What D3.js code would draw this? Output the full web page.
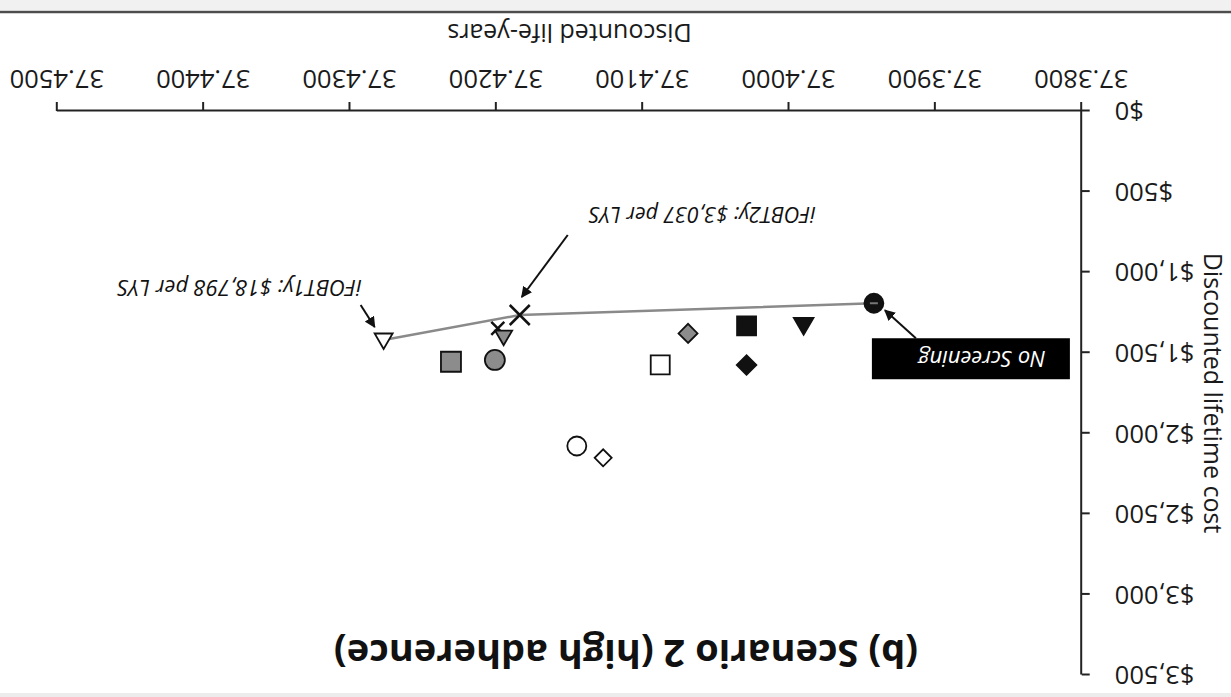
<!DOCTYPE html>
<html>
<head>
<meta charset="utf-8">
<script src="https://cdn.jsdelivr.net/npm/d3@7"></script>
<style>
  body { margin: 0; background: #fff; }
  svg { display: block; font-family: "Open Sans", sans-serif; }
</style>
</head>
<body>
<svg id="chart" width="1231" height="697"></svg>
<script>
// values (the scan is upside down, so the chart is drawn then turned 180deg)
const strategies = ["No Screening", "S1", "S2", "S3", "S4", "S5", "iFOBT2y", "S6", "S7", "S8", "S9", "iFOBT1y", "S10", "S11"]
const lifeYears = [37.3942, 37.3990, 37.4029, 37.4069, 37.4029, 37.4088, 37.4184, 37.4199, 37.4195, 37.4201, 37.4231, 37.4277, 37.4145, 37.4127]
const costs = [1193, 1328, 1334, 1380, 1576, 1576, 1266, 1349, 1401, 1545, 1556, 1421, 2079, 2152]
const frontier = ["No Screening", "iFOBT2y", "iFOBT1y"]
const xTicks = [37.38, 37.39, 37.40, 37.41, 37.42, 37.43, 37.44, 37.45]
const yTicks = [0, 500, 1000, 1500, 2000, 2500, 3000, 3500]

// marker look per strategy
const markerStyle = {
  "No Screening": { shape: "circle", r: 9.5, fill: "#111" },
  "S1": { shape: "triangle", r: 9.8, fill: "#111" },
  "S2": { shape: "square", r: 9.5, fill: "#111" },
  "S3": { shape: "diamond", r: 9.5, fill: "#8c8c8c" },
  "S4": { shape: "diamond", r: 9.8, fill: "#111" },
  "S5": { shape: "square", r: 9.5, fill: "#fff" },
  "iFOBT2y": { shape: "cross", r: 10, fill: "none" },
  "S6": { shape: "cross", r: 6.5, fill: "none" },
  "S7": { shape: "triangle", r: 8.5, fill: "#8c8c8c" },
  "S8": { shape: "circle", r: 10, fill: "#8c8c8c" },
  "S9": { shape: "square", r: 10, fill: "#8c8c8c" },
  "iFOBT1y": { shape: "triangle", r: 9, fill: "#fff" },
  "S10": { shape: "circle", r: 9.5, fill: "#fff" },
  "S11": { shape: "diamond", r: 8.5, fill: "#fff" }
}

function shapePath(shape, r) {
  if (shape === "circle") return "M" + r + ",0A" + r + "," + r + " 0 1,1 " + (-r) + ",0A" + r + "," + r + " 0 1,1 " + r + ",0Z"
  if (shape === "square") return "M" + (-r) + "," + (-r) + "H" + r + "V" + r + "H" + (-r) + "Z"
  if (shape === "diamond") return "M0," + (-r) + "L" + r + ",0L0," + r + "L" + (-r) + ",0Z"
  if (shape === "triangle") return "M0," + (-r) + "L" + r + "," + (r * 0.72) + "L" + (-r) + "," + (r * 0.72) + "Z"
  return "M" + (-r) + "," + (-r) + "L" + r + "," + r + "M" + r + "," + (-r) + "L" + (-r) + "," + r
}

const WIDTH = 1231
const HEIGHT = 697

const svg = d3.select("#chart")
svg.append("rect").attr("width", WIDTH).attr("height", HEIGHT).attr("fill", "#fff")

const defs = svg.append("defs")
defs.append("marker")
  .attr("id", "arrow")
  .attr("viewBox", "0 0 10 10")
  .attr("refX", 9).attr("refY", 5)
  .attr("markerWidth", 11).attr("markerHeight", 11)
  .attr("markerUnits", "userSpaceOnUse")
  .attr("orient", "auto")
  .append("path").attr("d", "M0,0L10,5L0,10Z").attr("fill", "#111")

// everything below is drawn the normal way up, then the whole group is turned over
const vis = svg.append("g").attr("transform", "rotate(180," + WIDTH / 2 + "," + HEIGHT / 2 + ")")

// scan edges
vis.append("rect").attr("x", 0).attr("y", 687).attr("width", WIDTH).attr("height", 10).attr("fill", "#f1f1f1")
vis.append("line").attr("x1", 0).attr("x2", WIDTH).attr("y1", 685).attr("y2", 685)
  .attr("stroke", "#4d4d4d").attr("stroke-width", 2.5)
vis.append("rect").attr("x", 0).attr("y", 0).attr("width", WIDTH).attr("height", 4).attr("fill", "#ececec")

const xScale = d3.scaleLinear().domain([37.38, 37.45]).range([149.3, 1173.7])
const yScale = d3.scaleLinear().domain([0, 3500]).range([586, 22])

const xAxis = d3.axisBottom(xScale).tickValues(xTicks).tickFormat(d3.format(".4f"))
  .tickSize(9).tickSizeOuter(0).tickPadding(14)
const yAxis = d3.axisLeft(yScale).tickValues(yTicks).tickFormat(d3.format("$,"))
  .tickSize(8).tickSizeOuter(0).tickPadding(25)

const gx = vis.append("g").attr("transform", "translate(0," + yScale(0) + ")").call(xAxis)
const gy = vis.append("g").attr("transform", "translate(" + xScale(37.38) + ",0)").call(yAxis)

;[gx, gy].forEach(function(ax) {
  ax.attr("font-family", null).attr("font-size", null)
  ax.select(".domain").attr("stroke", "#222").attr("stroke-width", 2)
  ax.selectAll(".tick line").attr("stroke", "#222").attr("stroke-width", 2)
  ax.selectAll(".tick text").attr("fill", "#1a1a1a").style("font-size", "25.5px")
})

vis.append("text")
  .attr("x", (xScale.range()[0] + xScale.range()[1]) / 2).attr("y", 664).attr("dy", "0.35em")
  .attr("text-anchor", "middle").style("font-size", "25px").attr("fill", "#1a1a1a")
  .text("Discounted life-years")

vis.append("text")
  .attr("transform", "translate(18," + (yScale(0) + yScale(3500)) / 2 + ") rotate(-90)")
  .attr("dy", "0.35em").attr("text-anchor", "middle").style("font-size", "25px").attr("fill", "#1a1a1a")
  .text("Discounted lifetime cost")

vis.append("text")
  .attr("x", 605).attr("y", 57).attr("text-anchor", "middle")
  .style("font-size", "38px").style("font-weight", "bold").attr("fill", "#111")
  .text("(b) Scenario 2 (high adherence)")

// efficiency frontier
const idx = function(name) { return strategies.indexOf(name) }
const lineGen = d3.line()
  .x(function(d) { return xScale(lifeYears[idx(d)]) })
  .y(function(d) { return yScale(costs[idx(d)]) })

vis.append("path")
  .attr("d", lineGen(frontier))
  .attr("fill", "none").attr("stroke", "#8a8a8a").attr("stroke-width", 2.5)

// points
vis.selectAll(".pt")
  .data(strategies)
  .enter().append("path")
  .attr("class", "pt")
  .attr("transform", function(d, i) { return "translate(" + xScale(lifeYears[i]) + "," + yScale(costs[i]) + ")" })
  .attr("d", function(d) { return shapePath(markerStyle[d].shape, markerStyle[d].r) })
  .attr("fill", function(d) { return markerStyle[d].fill })
  .attr("stroke", "#111")
  .attr("stroke-width", function(d) { return markerStyle[d].shape === "cross" ? 2.5 : 1.8 })

// small dash inside the No Screening dot
const ns = { x: xScale(lifeYears[0]), y: yScale(costs[0]) }
vis.append("line").attr("x1", ns.x - 4).attr("x2", ns.x + 4).attr("y1", ns.y).attr("y2", ns.y)
  .attr("stroke", "#777").attr("stroke-width", 2)

// annotations
function arrow(x1, y1, x2, y2) {
  vis.append("line").attr("x1", x1).attr("y1", y1).attr("x2", x2).attr("y2", y2)
    .attr("stroke", "#111").attr("stroke-width", 2).attr("marker-end", "url(#arrow)")
}

vis.append("rect").attr("x", ns.x - 196).attr("y", ns.y - 76).attr("width", 198).attr("height", 41).attr("fill", "#000")
vis.append("text").attr("x", ns.x - 108).attr("y", ns.y - 55).attr("dy", "0.35em")
  .attr("text-anchor", "middle").style("font-size", "22px").style("font-style", "italic").attr("fill", "#fff")
  .text("No Screening")
arrow(ns.x - 42, ns.y - 35, ns.x - 11, ns.y - 7)

const p2 = { x: xScale(lifeYears[idx("iFOBT2y")]), y: yScale(costs[idx("iFOBT2y")]) }
vis.append("text").attr("x", p2.x - 296).attr("y", p2.y + 100).attr("dy", "0.35em")
  .style("font-size", "21.5px").style("font-style", "italic").attr("fill", "#111")
  .text("iFOBT2y: $3,037 per LYS")
arrow(p2.x - 48, p2.y + 80, p2.x - 2, p2.y + 18)

const p1 = { x: xScale(lifeYears[idx("iFOBT1y")]), y: yScale(costs[idx("iFOBT1y")]) }
vis.append("text").attr("x", p1.x + 22).attr("y", p1.y + 52).attr("dy", "0.35em")
  .style("font-size", "22px").style("font-style", "italic").attr("fill", "#111")
  .text("iFOBT1y: $18,798 per LYS")
arrow(p1.x + 23, p1.y + 35, p1.x + 9, p1.y + 13)
</script>
</body>
</html>
